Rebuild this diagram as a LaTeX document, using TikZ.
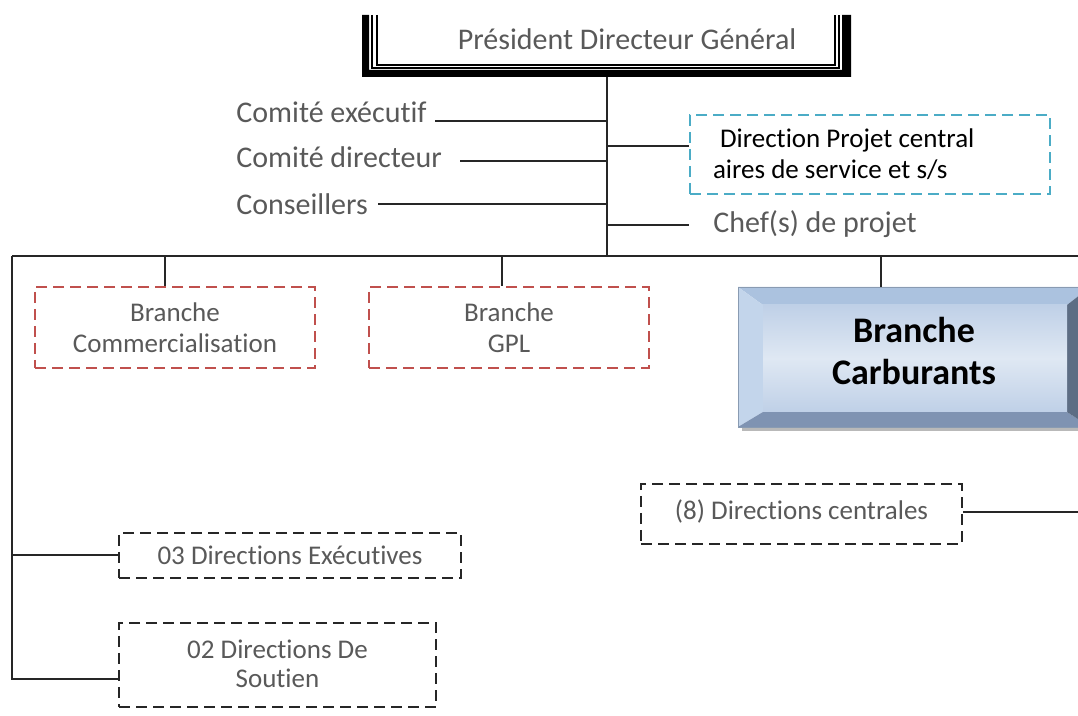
\documentclass[tikz,border=0pt]{standalone}
\usepackage{fontspec}
\setmainfont{Carlito}[Ligatures=CommonOff]
\usetikzlibrary{calc}
\definecolor{txtgray}{HTML}{595959}
\definecolor{linegray}{HTML}{262626}
\definecolor{redbox}{HTML}{C0504D}
\definecolor{cyanbox}{HTML}{4BACC6}
\definecolor{bevtop}{HTML}{ABC2DF}
\definecolor{bevleft}{HTML}{C3D5EB}
\definecolor{bevbot}{HTML}{7F93B2}
\definecolor{bevright}{HTML}{5D6D84}
\definecolor{facelight}{HTML}{DFE8F3}
\definecolor{facedark}{HTML}{BFD0E7}
\tikzset{
  conn/.style={draw=linegray, line width=1pt},
  lbl/.style={inner sep=0pt, text=txtgray, font=\fontsize{15}{18}\selectfont},
  dbox/.style={draw, line width=1.25pt, dash pattern=on 5.5pt off 3pt,
    inner sep=0pt, align=center, text=txtgray,
    font=\fontsize{13.5}{15.5}\selectfont},
  redd/.style={dbox, draw=redbox},
  blkd/.style={dbox, draw=linegray},
  cyand/.style={dbox, draw=cyanbox, text=black, align=flush left,
    inner xsep=11.5pt, text width=157pt, font=\fontsize{13.5}{15.5}\selectfont},
  frame/.style={inner sep=0pt, draw=none}
}
\begin{document}
\begin{tikzpicture}[x=0.5pt,y=-0.5pt]
\clip (0,0) rectangle (1078,716);

% --- President box: heavy open frame with double inner rule
\node[frame, minimum width=244.5pt, minimum height=31pt] (pdg) at (607,46) {};
\fill[black] (362,15) -- (362,77) -- (851,77) -- (851,15) -- (842,15)
  -- (842,70) -- (369,70) -- (369,15) -- cycle;
\draw[line width=0.8pt] (372,15) |- (839,68) -- (839,15);
\draw[line width=0.8pt] (377,15) |- (835,65) -- (835,15);
\node[lbl, anchor=base] (pdgtxt) at (627,50) {Président Directeur Général};

% --- trunk and main bus
\coordinate (hub) at (607,256);
\coordinate (busL) at (12,256);
\coordinate (busR) at (1090,256);
\coordinate (t1) at (607,121);
\coordinate (t2) at (607,161);
\coordinate (t3) at (607,204);
\coordinate (t4) at (607,146);
\coordinate (t5) at (607,225);
\draw[conn] (pdg.south) -- (hub);
\draw[conn] (busL) -- (busR);

% --- staff labels on the left of the trunk
\node[lbl, anchor=base west] (cex) at (236,123) {Comité exécutif};
\node[lbl, anchor=base west] (cdir) at (236,168) {Comité directeur};
\node[lbl, anchor=base west] (cons) at (236,215) {Conseillers};
\draw[conn] ($(cex.east |- t1)+(8,0)$) -- (t1);
\draw[conn] ($(cdir.east |- t2)+(18,0)$) -- (t2);
\draw[conn] ($(cons.east |- t3)+(10,0)$) -- (t3);

% --- project direction and project leaders on the right
\node[cyand, minimum width=180pt, minimum height=39.5pt] (dpc) at (870,154.5)
  {\hspace*{3.5pt}Direction Projet central\\aires de service et s/s};
\draw[conn] (t4) -- (t4 -| dpc.west);
\node[lbl, anchor=base west] (chef) at (713,233) {Chef(s) de projet};
\draw[conn] (t5) -- (t5 -| dpc.west);

% --- branches
\node[redd, minimum width=140pt, minimum height=40.5pt] (comm) at (175,327.5)
  {Branche\\Commercialisation};
\node[redd, minimum width=140pt, minimum height=40.5pt] (gpl) at (509,327.5)
  {Branche\\GPL};
\coordinate (d1) at (165,256);
\coordinate (d2) at (502,256);
\coordinate (d3) at (881,256);
\draw[conn] (d1) -- (d1 |- comm.north);
\draw[conn] (d2) -- (d2 |- gpl.north);

% --- bevelled Carburants block
\node[frame, minimum width=176pt, minimum height=70pt] (carb) at (914,357) {};
\fill[gray!55] (742,427) rectangle (1090,431);
\fill[bevtop] (738,287) -- (1090,287) -- (1067,305) -- (763,305) -- cycle;
\fill[bevleft] (738,287) -- (763,305) -- (763,412) -- (738,427) -- cycle;
\fill[bevbot] (738,427) -- (763,412) -- (1067,412) -- (1090,427) -- cycle;
\fill[bevright] (1090,287) -- (1067,305) -- (1067,412) -- (1090,427) -- cycle;
\shade[shading=axis, shading angle=60, top color=facedark, bottom color=facedark,
  middle color=facelight] (763,305) rectangle (1067,412);
\draw[bevtop!80!black, line width=0.4pt] (738,287) rectangle (1090,427);
\draw[conn] (d3) -- (d3 |- carb.north);
\node[inner sep=0pt, align=center, font=\fontsize{18}{21}\selectfont\bfseries]
  (carbtxt) at (914,351) {Branche\\Carburants};

% --- central directions
\node[blkd, minimum width=160.5pt, minimum height=30pt] (cent) at (801.5,514)
  {\raisebox{4pt}{(8) Directions centrales}};
\draw[conn] (cent.east |- 0,512) -- (1090,512);

% --- executive and support directions
\node[blkd, minimum width=171pt, minimum height=22.5pt] (exe) at (290,555.5)
  {03 Directions Exécutives};
\node[blkd, minimum width=158.5pt, minimum height=42pt] (sout) at (277.5,665)
  {\raisebox{1pt}{02 Directions De}\\[-1pt]\raisebox{1pt}{Soutien}};
\draw[conn] (busL) |- ([yshift=-7pt]sout.west);
\draw[conn] (busL |- exe.west) -- (exe.west);
\end{tikzpicture}
\end{document}
